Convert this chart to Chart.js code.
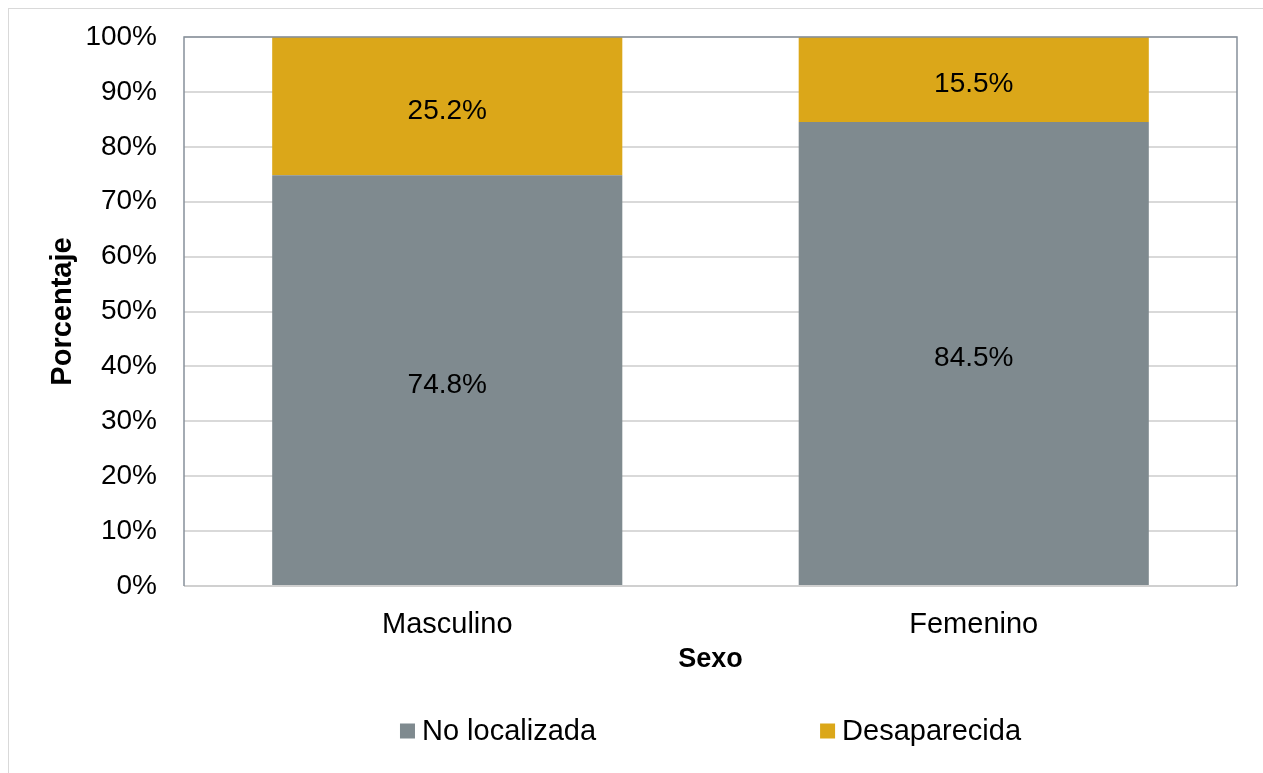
<!DOCTYPE html>
<html>
<head>
<meta charset="utf-8">
<script src="https://cdn.jsdelivr.net/npm/chart.js@4"></script>
<style>
    body { margin: 0; background: #fff; }
    #wrap { position: relative; width: 1263px; height: 773px; overflow: hidden; }
    #frame { position: absolute; left: 8px; top: 8px; width: 2000px; height: 2000px; border: 1px solid #d9d9d9; }
    canvas { position: absolute; left: 0; top: 0; }
</style>
</head>
<body>
<div id="wrap">
    <div id="frame"></div>
    <canvas id="chart" width="1263" height="773"></canvas>
</div>
<script>
const categories = ['Masculino', 'Femenino'];
const noLocalizada = [74.8, 84.5];
const desaparecida = [25.2, 15.5];
const seriesNames = ['No localizada', 'Desaparecida'];
const seriesColors = ['#7f8a8f', '#dba719'];

const FONT = '"Liberation Sans", Arial, sans-serif';

// labels in the middle of each segment + plot frame + legend
const extras = {
    id: 'extras',
    afterDatasetsDraw(chart) {
        const ctx = chart.ctx;
        ctx.save();
        ctx.font = '28px ' + FONT;
        ctx.fillStyle = '#000';
        ctx.textAlign = 'center';
        ctx.textBaseline = 'middle';
        chart.data.datasets.forEach((ds, i) => {
            chart.getDatasetMeta(i).data.forEach((bar, j) => {
                const mid = (bar.y + bar.base) / 2;
                ctx.fillText(ds.data[j].toFixed(1) + '%', bar.x, mid + 5);
            });
        });
        ctx.restore();
    },
    afterDraw(chart) {
        const ctx = chart.ctx;
        const a = chart.chartArea;
        ctx.save();
        // bottom axis line
        ctx.strokeStyle = '#d0d0d0';
        ctx.lineWidth = 2;
        ctx.beginPath();
        ctx.moveTo(a.left, a.bottom);
        ctx.lineTo(a.right, a.bottom);
        ctx.stroke();
        // top, left, right border
        ctx.strokeStyle = '#86909a';
        ctx.lineWidth = 1.5;
        ctx.beginPath();
        ctx.moveTo(a.left, a.bottom);
        ctx.lineTo(a.left, a.top);
        ctx.lineTo(a.right, a.top);
        ctx.lineTo(a.right, a.bottom);
        ctx.stroke();

        // legend
        ctx.font = '29px ' + FONT;
        ctx.textBaseline = 'middle';
        ctx.textAlign = 'left';
        const box = 15, gapText = 7, gapItem = 224;
        const widths = seriesNames.map(n => box + gapText + ctx.measureText(n).width);
        const total = widths.reduce((s, w) => s + w, 0) + gapItem * (widths.length - 1);
        let x = (a.left + a.right) / 2 - total / 2;
        const y = 731;
        seriesNames.forEach((n, i) => {
            ctx.fillStyle = seriesColors[i];
            ctx.fillRect(x, y - box / 2, box, box);
            ctx.fillStyle = '#000';
            ctx.fillText(n, x + box + gapText, y + 1);
            x += widths[i] + gapItem;
        });
        ctx.restore();
    }
};

new Chart(document.getElementById('chart'), {
    type: 'bar',
    data: {
        labels: categories,
        datasets: [
            { label: seriesNames[0], data: noLocalizada, backgroundColor: seriesColors[0] },
            { label: seriesNames[1], data: desaparecida, backgroundColor: seriesColors[1] }
        ]
    },
    options: {
        responsive: false,
        animation: false,
        layout: { padding: { left: 42, top: 37, right: 26, bottom: 93 } },
        datasets: { bar: { categoryPercentage: 1, barPercentage: 0.665 } },
        plugins: {
            legend: { display: false },
            tooltip: { enabled: false }
        },
        scales: {
            x: {
                stacked: true,
                grid: { display: false },
                border: { display: false },
                afterFit: s => { s.height = 94; },
                ticks: { color: '#000', padding: 14, font: { family: FONT, size: 29 } },
                title: { display: true, text: 'Sexo', color: '#000', padding: 4,
                         font: { family: FONT, size: 27, weight: 'bold' } }
            },
            y: {
                stacked: true,
                min: 0,
                max: 100,
                afterFit: s => { s.width = 142; s.paddingTop = 0; s.paddingBottom = 0; },
                grid: { color: '#d9d9d9', lineWidth: 2, drawTicks: false },
                border: { display: false },
                ticks: { stepSize: 10, color: '#000', padding: 27,
                         font: { family: FONT, size: 28 },
                         callback: v => v + '%' },
                title: { display: true, text: 'Porcentaje', color: '#000', padding: 4,
                         font: { family: FONT, size: 29, weight: 'bold' } }
            }
        }
    },
    plugins: [extras]
});
</script>
</body>
</html>
